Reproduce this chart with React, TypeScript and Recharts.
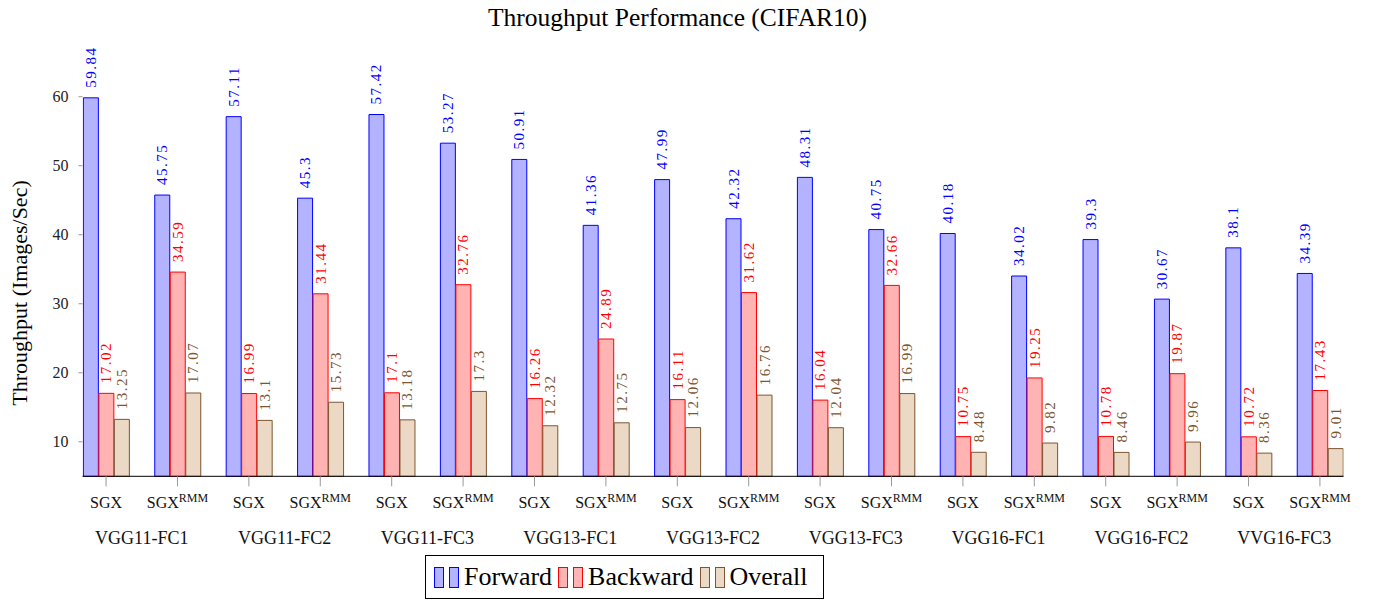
import { BarChart, Bar, XAxis, YAxis, LabelList, Customized } from "recharts"

const groups = [
  "VGG11-FC1",
  "VGG11-FC2",
  "VGG11-FC3",
  "VGG13-FC1",
  "VGG13-FC2",
  "VGG13-FC3",
  "VGG16-FC1",
  "VGG16-FC2",
  "VVG16-FC3",
]
const forward = [59.84, 45.75, 57.11, 45.3, 57.42, 53.27, 50.91, 41.36, 47.99, 42.32, 48.31, 40.75, 40.18, 34.02, 39.3, 30.67, 38.1, 34.39]
const backward = [17.02, 34.59, 16.99, 31.44, 17.1, 32.76, 16.26, 24.89, 16.11, 31.62, 16.04, 32.66, 10.75, 19.25, 10.78, 19.87, 10.72, 17.43]
const overall = [13.25, 17.07, 13.1, 15.73, 13.18, 17.3, 12.32, 12.75, 12.06, 16.76, 12.04, 16.99, 8.48, 9.82, 8.46, 9.96, 8.36, 9.01]
const yTicks = [10, 20, 30, 40, 50, 60]

const data = forward.map((f, i) => ({
  idx: i,
  forward: f,
  backward: backward[i],
  overall: overall[i],
}))
const barTicks = data.map((d) => d.idx)
const groupTicks = groups.map((_, i) => i * 2 + 0.5)

const SERIF = "'Liberation Serif', 'Times New Roman', serif"
const BLUE = "#0000ff"
const RED = "#ff0000"
const BROWN = "#7d5530"

const valueLabel = (color: string) => (props: any) => {
  const { x, y, width, value } = props
  const cx = Number(x) + Number(width) / 2
  return (
    <text
      transform={`translate(${cx},${Number(y) - 10}) rotate(-90)`}
      textAnchor="start"
      dominantBaseline="central"
      fontFamily={SERIF}
      fontSize={15}
      letterSpacing={1.5}
      fill={color}
    >
      {String(value)}
    </text>
  )
}

const VariantTick = (props: any) => {
  const { x, y, payload } = props
  const rmm = payload.value % 2 === 1
  return (
    <text x={x} y={y + 20} textAnchor="middle" fontFamily={SERIF} fontSize={16} fill="#111">
      SGX
      {rmm && (
        <tspan fontSize={12} dy={-6}>
          RMM
        </tspan>
      )}
    </text>
  )
}

const Titles = () => (
  <g>
    <text x={677.5} y={26} textAnchor="middle" fontFamily={SERIF} fontSize={25.5} fill="#000">
      Throughput Performance (CIFAR10)
    </text>
    <text
      transform="translate(19,293) rotate(-90)"
      textAnchor="middle"
      dominantBaseline="central"
      fontFamily={SERIF}
      fontSize={22}
      fill="#000"
    >
      Throughput (Images/Sec)
    </text>
  </g>
)

const legendItems = [
  { name: "Forward", fill: "#b3b3ff", stroke: BLUE },
  { name: "Backward", fill: "#ffb3b3", stroke: RED },
  { name: "Overall", fill: "#ebd9c6", stroke: BROWN },
]

export default function App() {
  return (
    <div style={{ position: "relative", width: 1379, height: 601, margin: "-8px 0 0 -8px" }}>
      <BarChart
        width={1379}
        height={601}
        data={data}
        barSize={15}
        barGap={0.5}
        margin={{ top: 62.2, right: 35.5, left: 42.5, bottom: 39.7 }}
      >
        <XAxis
          xAxisId="bars"
          dataKey="idx"
          type="number"
          domain={[-0.33, 17.33]}
          allowDataOverflow
          ticks={barTicks}
          interval={0}
          height={45}
          tickSize={10}
          tickLine={{ stroke: "#999" }}
          axisLine={{ stroke: "#000" }}
          tick={<VariantTick />}
        />
        <XAxis
          xAxisId="groups"
          dataKey="idx"
          type="number"
          domain={[-0.33, 17.33]}
          allowDataOverflow
          ticks={groupTicks}
          interval={0}
          height={40}
          tickSize={0}
          tickMargin={10}
          axisLine={false}
          tickLine={false}
          tickFormatter={(v: number) => groups[Math.round((v - 0.5) / 2)]}
          tick={{ fontFamily: SERIF, fontSize: 18, fill: "#111" }}
        />
        <YAxis
          domain={[5, 65]}
          ticks={yTicks}
          width={40}
          axisLine={false}
          tickSize={4}
          tickMargin={10}
          tickLine={{ stroke: "#999" }}
          tick={{ fontFamily: SERIF, fontSize: 16, fill: "#222" }}
        />
        <Bar xAxisId="bars" dataKey="forward" fill="#b3b3ff" stroke={BLUE} strokeWidth={1} isAnimationActive={false}>
          <LabelList dataKey="forward" content={valueLabel(BLUE)} />
        </Bar>
        <Bar xAxisId="bars" dataKey="backward" fill="#ffb3b3" stroke={RED} strokeWidth={1} isAnimationActive={false}>
          <LabelList dataKey="backward" content={valueLabel(RED)} />
        </Bar>
        <Bar xAxisId="bars" dataKey="overall" fill="#ebd9c6" stroke={BROWN} strokeWidth={1} isAnimationActive={false}>
          <LabelList dataKey="overall" content={valueLabel(BROWN)} />
        </Bar>
        <Customized component={<Titles />} />
      </BarChart>
      <div
        style={{
          position: "absolute",
          zIndex: 2,
          left: 425,
          top: 555,
          width: 397,
          height: 42,
          border: "1px solid #000",
          background: "#fff",
          display: "flex",
          alignItems: "center",
          fontFamily: SERIF,
          fontSize: 26,
          boxSizing: "content-box",
        }}
      >
        {legendItems.map((it, k) => (
          <div key={it.name} style={{ display: "flex", alignItems: "center", marginLeft: k === 0 ? 8 : 6 }}>
            {[0, 1].map((j) => (
              <span
                key={j}
                style={{
                  display: "inline-block",
                  width: 8,
                  height: 19,
                  background: it.fill,
                  border: `1px solid ${it.stroke}`,
                  marginRight: 5,
                }}
              />
            ))}
            <span>{it.name}</span>
          </div>
        ))}
      </div>
    </div>
  )
}
